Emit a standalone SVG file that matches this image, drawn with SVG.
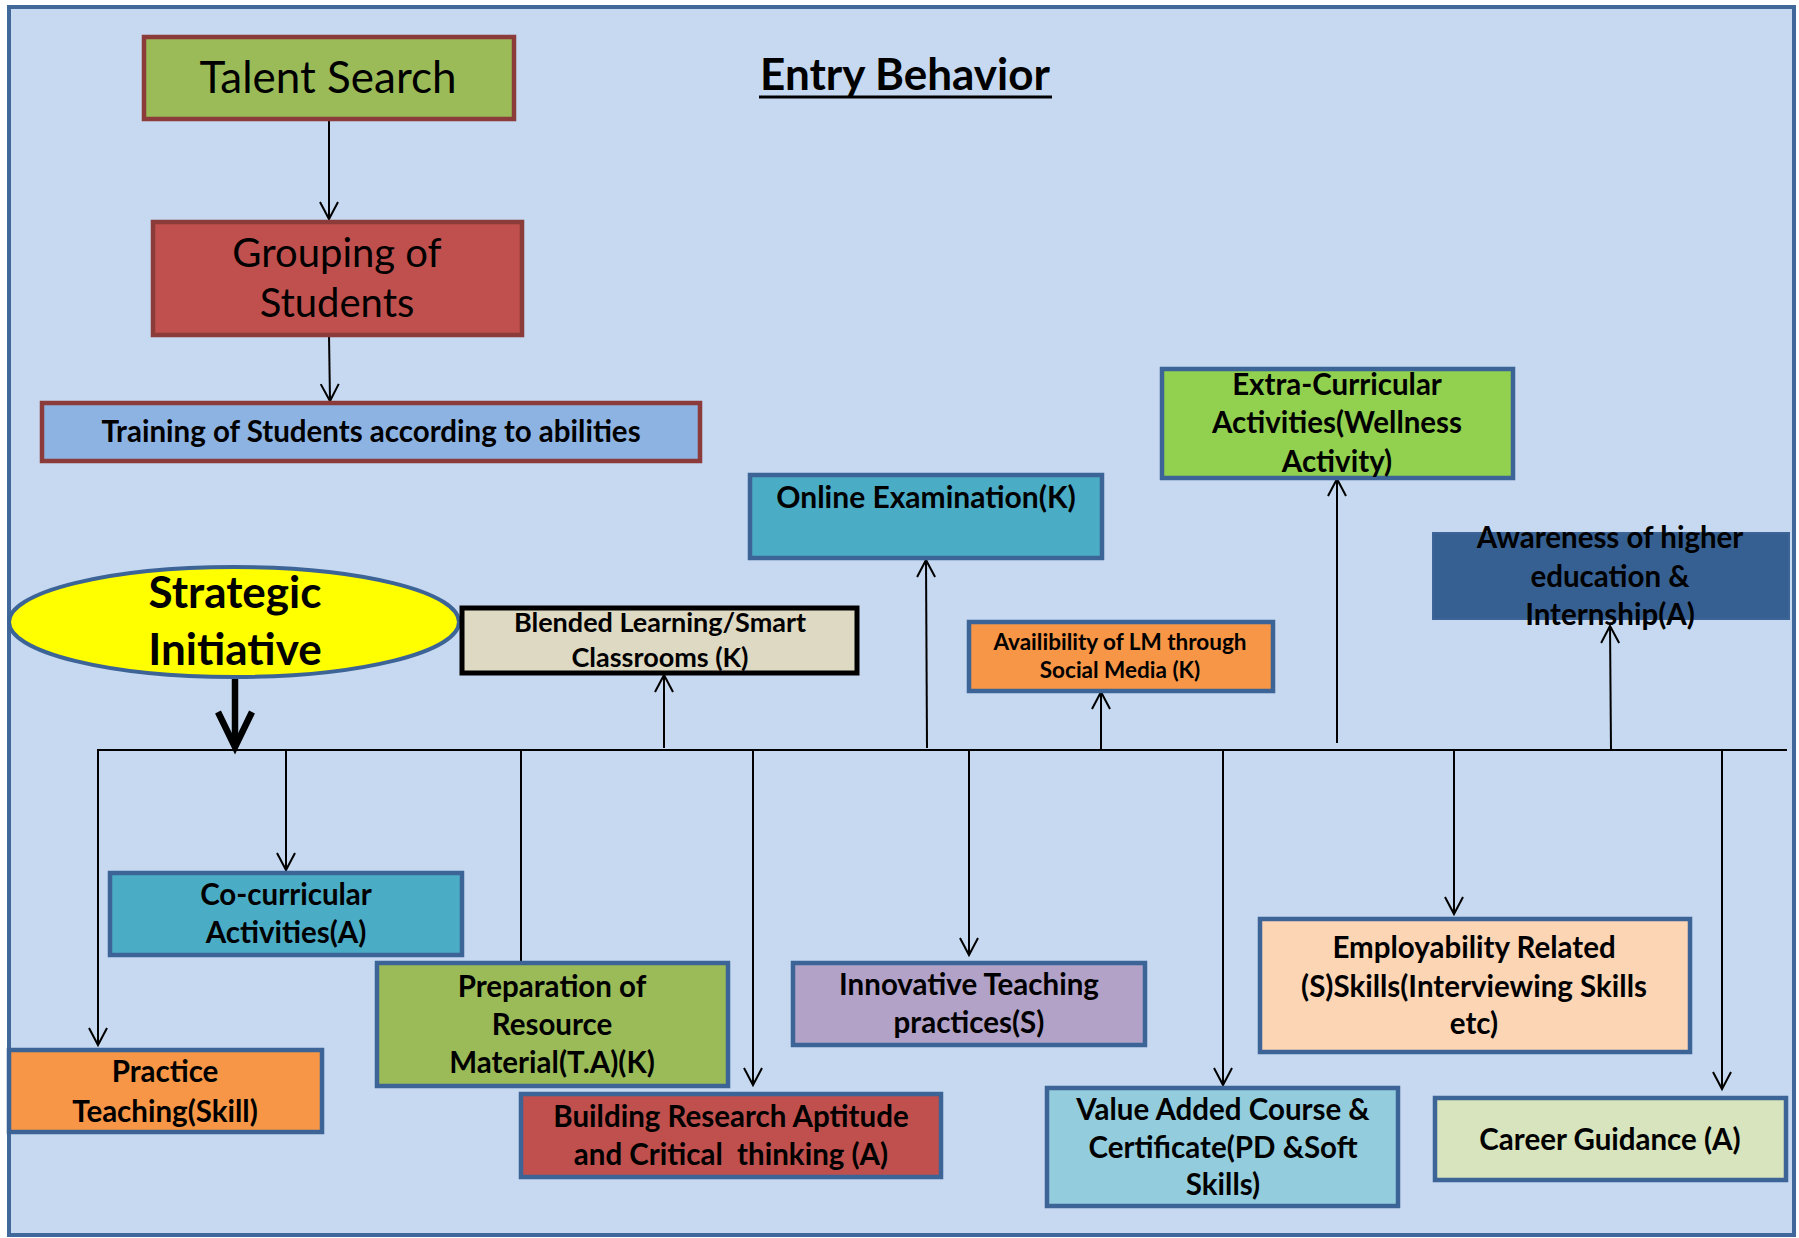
<svg xmlns="http://www.w3.org/2000/svg" width="1799" height="1238" viewBox="0 0 1799 1238">
<defs>
<style>
.t{font-family:"Lato","Liberation Sans",sans-serif;font-weight:700;fill:#000;text-anchor:middle}
.r{font-family:"Lato","Liberation Sans",sans-serif;font-weight:400;fill:#000;text-anchor:middle}
.bb{stroke:#3D6496;stroke-width:4.5}
.rb{stroke:#8C3B3B;stroke-width:4.5}
.c{stroke:#000;stroke-width:2;fill:none}
</style>
<marker id="ah" markerUnits="userSpaceOnUse" markerWidth="24" markerHeight="24" viewBox="0 0 24 24" refX="19" refY="12" orient="auto">
<path d="M2,3 L19,12 L2,21" fill="none" stroke="#000" stroke-width="2"/>
</marker>
</defs>
<rect x="0" y="0" width="1799" height="1238" fill="#fff"/>
<rect x="9" y="7" width="1785" height="1228" fill="#C6D9F0" stroke="#41689A" stroke-width="4"/>
<g id="title">
<text class="t" x="905" y="90" font-size="44">Entry Behavior</text>
<line x1="759" y1="97" x2="1052" y2="97" stroke="#000" stroke-width="3"/>
</g>
<g id="connectors">
<line class="c" x1="329" y1="119" x2="329" y2="219" marker-end="url(#ah)"/>
<line class="c" x1="329" y1="335" x2="330" y2="401" marker-end="url(#ah)"/>
<line class="c" x1="97" y1="750" x2="1787" y2="750"/>
<line x1="235" y1="677" x2="235" y2="745" stroke="#000" stroke-width="6.5"/>
<path d="M218,712 L235,747 L252,712" fill="none" stroke="#000" stroke-width="6.5"/>
<line class="c" x1="98" y1="750" x2="98" y2="1045" marker-end="url(#ah)"/>
<line class="c" x1="286" y1="750" x2="286" y2="870" marker-end="url(#ah)"/>
<line class="c" x1="521" y1="750" x2="521" y2="962"/>
<line class="c" x1="753" y1="750" x2="753" y2="1085" marker-end="url(#ah)"/>
<line class="c" x1="969" y1="750" x2="969" y2="955" marker-end="url(#ah)"/>
<line class="c" x1="1223" y1="750" x2="1223" y2="1085" marker-end="url(#ah)"/>
<line class="c" x1="1454" y1="750" x2="1454" y2="914" marker-end="url(#ah)"/>
<line class="c" x1="1722" y1="750" x2="1722" y2="1089" marker-end="url(#ah)"/>
<line class="c" x1="664" y1="748" x2="664" y2="675" marker-end="url(#ah)"/>
<line class="c" x1="927" y1="748" x2="926" y2="560" marker-end="url(#ah)"/>
<line class="c" x1="1101" y1="750" x2="1101" y2="692" marker-end="url(#ah)"/>
<line class="c" x1="1337" y1="743" x2="1337" y2="479" marker-end="url(#ah)"/>
<line class="c" x1="1611" y1="750" x2="1610" y2="626" marker-end="url(#ah)"/>
</g>
<g id="talent-search">
<rect class="rb" x="144" y="37" width="370" height="82" fill="#9BBB59"/>
<text class="r" x="328" y="93" font-size="44">Talent Search</text>
</g>
<g id="grouping">
<rect class="rb" x="153" y="222" width="369" height="113" fill="#C0504D"/>
<text class="r" x="337" y="267" font-size="40">Grouping of</text>
<text class="r" x="337" y="317" font-size="40">Students</text>
</g>
<g id="training">
<rect class="rb" x="42" y="403" width="658" height="58" fill="#8DB3E2"/>
<text class="t" x="371" y="442" font-size="29.5">Training of Students according to abilities</text>
</g>
<g id="extra-curricular">
<rect class="bb" x="1162" y="369" width="351" height="109" fill="#92D050"/>
<text class="t" x="1337" y="395" font-size="29.5">Extra-Curricular</text>
<text class="t" x="1337" y="433" font-size="29.5">Activities(Wellness</text>
<text class="t" x="1337" y="472" font-size="29.5">Activity)</text>
</g>
<g id="online-exam">
<rect class="bb" x="750" y="475" width="352" height="83" fill="#4BACC6"/>
<text class="t" x="926" y="508" font-size="30">Online Examination(K)</text>
</g>
<g id="awareness">
<rect x="1433" y="533" width="356" height="86" fill="#376092" stroke="#3D6496" stroke-width="2"/>
<text class="t" x="1610" y="548" font-size="29.5">Awareness of higher</text>
<text class="t" x="1610" y="587" font-size="29.5">education &amp;</text>
<text class="t" x="1610" y="625" font-size="29.5">Internship(A)</text>
</g>
<g id="strategic">
<ellipse cx="234" cy="622" rx="225" ry="55" fill="#FFFF00" stroke="#3D6496" stroke-width="4"/>
<text class="t" x="235" y="608" font-size="44">Strategic</text>
<text class="t" x="235" y="665" font-size="44">Initiative</text>
</g>
<g id="blended">
<rect x="462" y="608" width="395" height="65" fill="#DDD9C3" stroke="#000" stroke-width="5"/>
<text class="t" x="660" y="632" font-size="27">Blended Learning/Smart</text>
<text class="t" x="660" y="667" font-size="27">Classrooms (K)</text>
</g>
<g id="availability">
<rect class="bb" x="969" y="622" width="304" height="69" fill="#F79646"/>
<text class="t" x="1120" y="650" font-size="22.5">Availibility of LM through</text>
<text class="t" x="1120" y="678" font-size="22.5">Social Media (K)</text>
</g>
<g id="co-curricular">
<rect class="bb" x="110" y="873" width="352" height="82" fill="#4BACC6"/>
<text class="t" x="286" y="905" font-size="29.5">Co-curricular</text>
<text class="t" x="286" y="943" font-size="29.5">Activities(A)</text>
</g>
<g id="preparation">
<rect class="bb" x="377" y="963" width="351" height="123" fill="#9BBB59"/>
<text class="t" x="552" y="997" font-size="29.5">Preparation of</text>
<text class="t" x="552" y="1035" font-size="29.5">Resource</text>
<text class="t" x="552" y="1073" font-size="29.5">Material(T.A)(K)</text>
</g>
<g id="practice">
<rect class="bb" x="9" y="1050" width="313" height="82" fill="#F79646"/>
<text class="t" x="165" y="1082" font-size="29.5">Practice</text>
<text class="t" x="165" y="1122" font-size="29.5">Teaching(Skill)</text>
</g>
<g id="building">
<rect class="bb" x="521" y="1094" width="420" height="83" fill="#C0504D"/>
<text class="t" x="731" y="1127" font-size="29.5">Building Research Aptitude</text>
<text class="t" x="731" y="1165" font-size="29.5" xml:space="preserve">and Critical  thinking (A)</text>
</g>
<g id="innovative">
<rect class="bb" x="793" y="963" width="352" height="82" fill="#B2A2C7"/>
<text class="t" x="969" y="995" font-size="29.5">Innovative Teaching</text>
<text class="t" x="969" y="1033" font-size="29.5">practices(S)</text>
</g>
<g id="value-added">
<rect class="bb" x="1047" y="1088" width="351" height="118" fill="#93CDDD"/>
<text class="t" x="1223" y="1120" font-size="29.5">Value Added Course &amp;</text>
<text class="t" x="1223" y="1158" font-size="29.5">Certificate(PD &amp;Soft</text>
<text class="t" x="1223" y="1195" font-size="29.5">Skills)</text>
</g>
<g id="employability">
<rect class="bb" x="1260" y="919" width="430" height="133" fill="#FCD5B5"/>
<text class="t" x="1474" y="958" font-size="29.5">Employability Related</text>
<text class="t" x="1474" y="997" font-size="29.5">(S)Skills(Interviewing Skills</text>
<text class="t" x="1474" y="1034" font-size="29.5">etc)</text>
</g>
<g id="career">
<rect class="bb" x="1435" y="1098" width="351" height="82" fill="#D7E4BD"/>
<text class="t" x="1610" y="1150" font-size="29.5">Career Guidance (A)</text>
</g>
</svg>
